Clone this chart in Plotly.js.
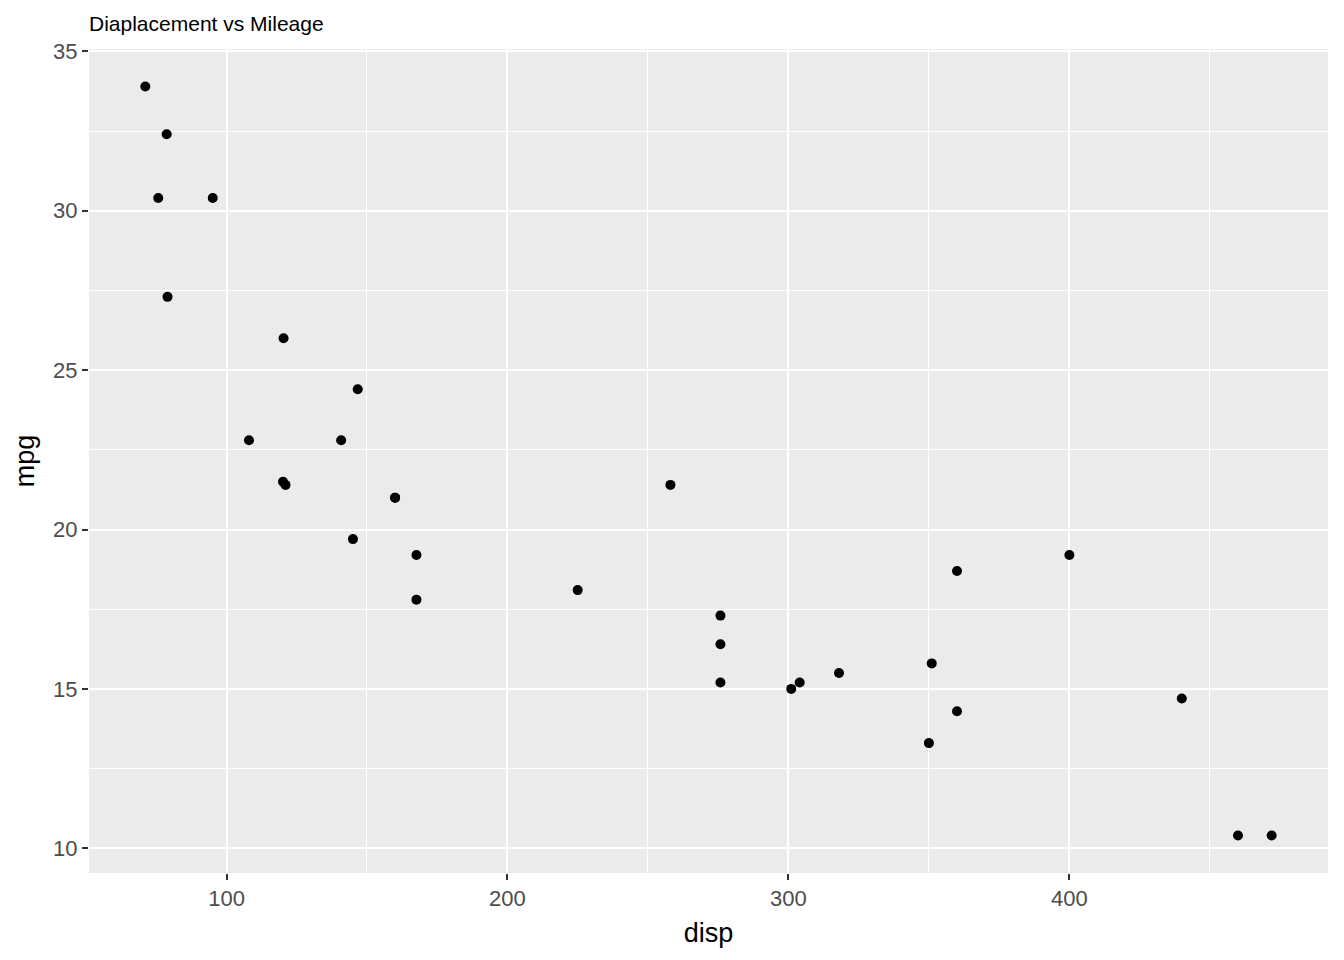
<!DOCTYPE html>
<html>
<head>
<meta charset="utf-8">
<script src="https://cdn.plot.ly/plotly-3.0.1.min.js"></script>
<style>html,body{margin:0;padding:0;background:#fff;}#chart{width:1344px;height:960px;}</style>
</head>
<body>
<div id="chart"></div>
<script>
const disp = [160, 160, 108, 258, 360, 225, 360, 146.7, 140.8, 167.6, 167.6, 275.8, 275.8, 275.8, 472, 460, 440, 78.7, 75.7, 71.1, 120.1, 318, 304, 350, 400, 79, 120.3, 95.1, 351, 145, 301, 121];
const mpg = [21.0, 21.0, 22.8, 21.4, 18.7, 18.1, 14.3, 24.4, 22.8, 19.2, 17.8, 16.4, 17.3, 15.2, 10.4, 10.4, 14.7, 32.4, 30.4, 33.9, 21.5, 15.5, 15.2, 13.3, 19.2, 27.3, 26.0, 30.4, 15.8, 19.7, 15.0, 21.4];
const xTicks = [100, 200, 300, 400];
const yTicks = [10, 15, 20, 25, 30, 35];

const xr = [Math.min(...disp), Math.max(...disp)];
const yr = [Math.min(...mpg), Math.max(...mpg)];
const xe = (xr[1] - xr[0]) * 0.05, ye = (yr[1] - yr[0]) * 0.05;
const FONT = 'Liberation Sans, Arial, sans-serif';

const axisBase = {
  showline: false, zeroline: false,
  showgrid: true, gridcolor: '#FFFFFF', gridwidth: 2,
  ticks: 'outside', ticklen: 6, tickwidth: 2, tickcolor: '#333333',
  tickfont: {family: FONT, size: 22, color: '#4D4D4D'}
};

Plotly.newPlot('chart', [{
  type: 'scatter', mode: 'markers', x: disp, y: mpg,
  marker: {color: '#000000', size: 10}, hoverinfo: 'x+y'
}], {
  width: 1344, height: 960,
  paper_bgcolor: '#FFFFFF', plot_bgcolor: '#EBEBEB',
  margin: {l: 89, r: 16, t: 49, b: 87},
  showlegend: false,
  title: {text: 'Diaplacement vs Mileage', x: 89/1344, xanchor: 'left', y: 1 - 24/960, yanchor: 'middle',
          font: {family: FONT, size: 21, color: '#000000'}},
  xaxis: Object.assign({}, axisBase, {
    range: [xr[0] - xe, xr[1] + xe], tickvals: xTicks, ticktext: xTicks.map(String),
    minor: {showgrid: true, gridcolor: '#FFFFFF', gridwidth: 1, tickvals: [150, 250, 350, 450]},
    title: {text: 'disp', standoff: 12, font: {family: FONT, size: 27, color: '#000000'}}
  }),
  yaxis: Object.assign({}, axisBase, {
    range: [yr[0] - ye, yr[1] + ye], tickvals: yTicks, ticktext: yTicks.map(String),
    minor: {showgrid: true, gridcolor: '#FFFFFF', gridwidth: 1, tickvals: [12.5, 17.5, 22.5, 27.5, 32.5]},
    title: {text: 'mpg', standoff: 10, font: {family: FONT, size: 27, color: '#000000'}}
  })
}, {displayModeBar: false, staticPlot: true});
</script>
</body>
</html>
